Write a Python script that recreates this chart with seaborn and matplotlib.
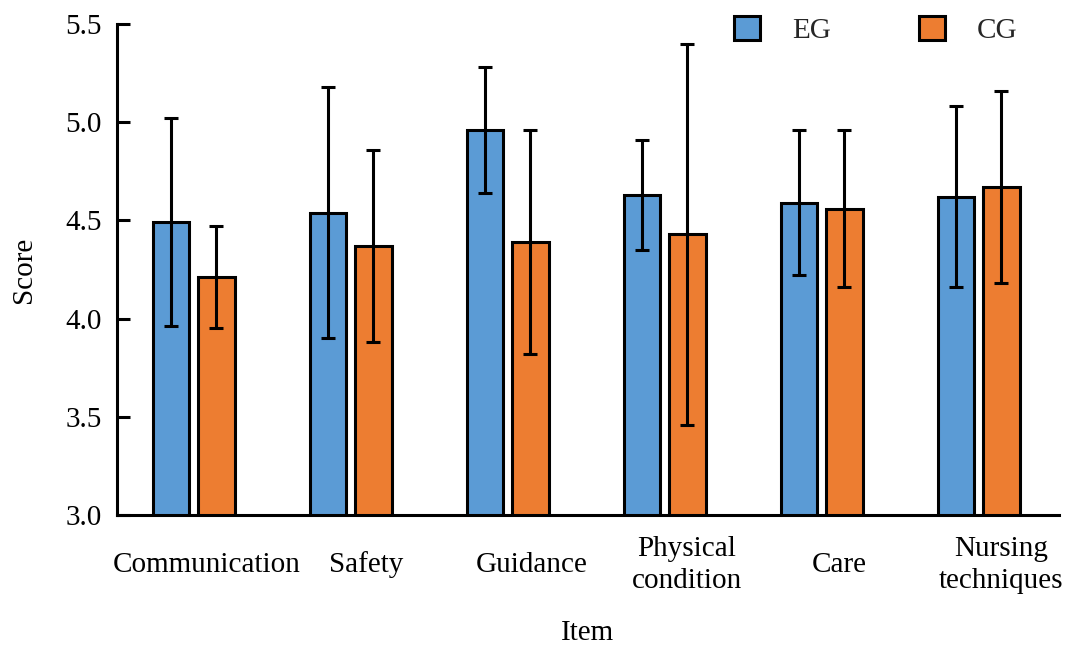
import numpy as np
import pandas as pd
import seaborn as sns
import matplotlib
matplotlib.use("Agg")
import matplotlib.pyplot as plt
import matplotlib.transforms as mtransforms
from matplotlib.patches import Patch

# ---- data ----
items = ["Communication", "Safety", "Guidance", "Physical\ncondition", "Care", "Nursing\ntechniques"]
groups = ["EG", "CG"]
eg_mean = [4.49, 4.54, 4.96, 4.63, 4.59, 4.62]
eg_sd = [0.53, 0.64, 0.32, 0.28, 0.37, 0.46]
cg_mean = [4.21, 4.37, 4.39, 4.43, 4.56, 4.67]
cg_sd = [0.26, 0.49, 0.57, 0.97, 0.40, 0.49]
colors = ["#5B9BD5", "#ED7D31"]

df = pd.DataFrame({
    "Item": items * 2,
    "Group": ["EG"] * len(items) + ["CG"] * len(items),
    "Score": eg_mean + cg_mean,
})
sds = {"EG": eg_sd, "CG": cg_sd}

sns.set_theme(style="ticks")
plt.rcParams["font.family"] = ["Liberation Serif", "DejaVu Serif"]

FS = 21
LW = 2.2

fig = plt.figure(figsize=(10.66, 6.45), dpi=100)
ax = fig.add_axes([117 / 1066, 1 - 515 / 645, (1059 - 117) / 1066, (515 - 24) / 645])

sns.barplot(data=df, x="Item", y="Score", hue="Group", order=items, hue_order=groups,
            palette=colors, errorbar=None, width=0.575, gap=0.2,
            edgecolor="black", linewidth=LW, saturation=1, ax=ax, legend=False)

for cont, g in zip(ax.containers, groups):
    xs = [p.get_x() + p.get_width() / 2 for p in cont.patches]
    ys = [p.get_height() + p.get_y() for p in cont.patches]
    ax.errorbar(xs, ys, yerr=sds[g], fmt="none", ecolor="black",
                elinewidth=LW, capsize=5, capthick=LW, zorder=5)

ax.set_ylim(3.0, 5.5)
ax.set_xlim(-0.49, 5.51)
ax.set_yticks([3.0, 3.5, 4.0, 4.5, 5.0, 5.5])
ax.set_yticklabels(["3.0", "3.5", "4.0", "4.5", "5.0", "5.5"])

for s in ["top", "right"]:
    ax.spines[s].set_visible(False)
for s in ["left", "bottom"]:
    ax.spines[s].set_linewidth(LW)
    ax.spines[s].set_color("black")

ax.tick_params(axis="y", direction="in", length=9.5, width=LW, labelsize=FS, pad=11, colors="black")
ax.tick_params(axis="x", length=0, labelsize=FS, pad=36, colors="black")

# horizontal shift of each category label (inches), as in the reference layout
label_shift = [0.13, 0.15, 0.24, 0.22, 0.17, 0.22]
for lab, dx in zip(ax.get_xticklabels(), label_shift):
    lab.set_verticalalignment("center")
    lab.set_horizontalalignment("center")
    lab.set_multialignment("center")
    lab.set_linespacing(1.25)
    lab.set_transform(lab.get_transform() + mtransforms.ScaledTranslation(dx, 0, fig.dpi_scale_trans))

ax.set_xlabel("Item", fontsize=FS, labelpad=19, color="black")
ax.set_ylabel("Score", fontsize=FS, labelpad=20, color="black")

handles = [Patch(facecolor=c, edgecolor="black", linewidth=LW) for c in colors]
fig.legend(handles, groups, loc="upper left", bbox_to_anchor=(734 / 1066, 1 - 16 / 645),
           ncol=2, frameon=False, fontsize=FS, handlelength=0.9, handleheight=0.9,
           handletextpad=1.1, columnspacing=3.0, borderpad=0, borderaxespad=0)

fig.savefig("out.png", dpi=100)
